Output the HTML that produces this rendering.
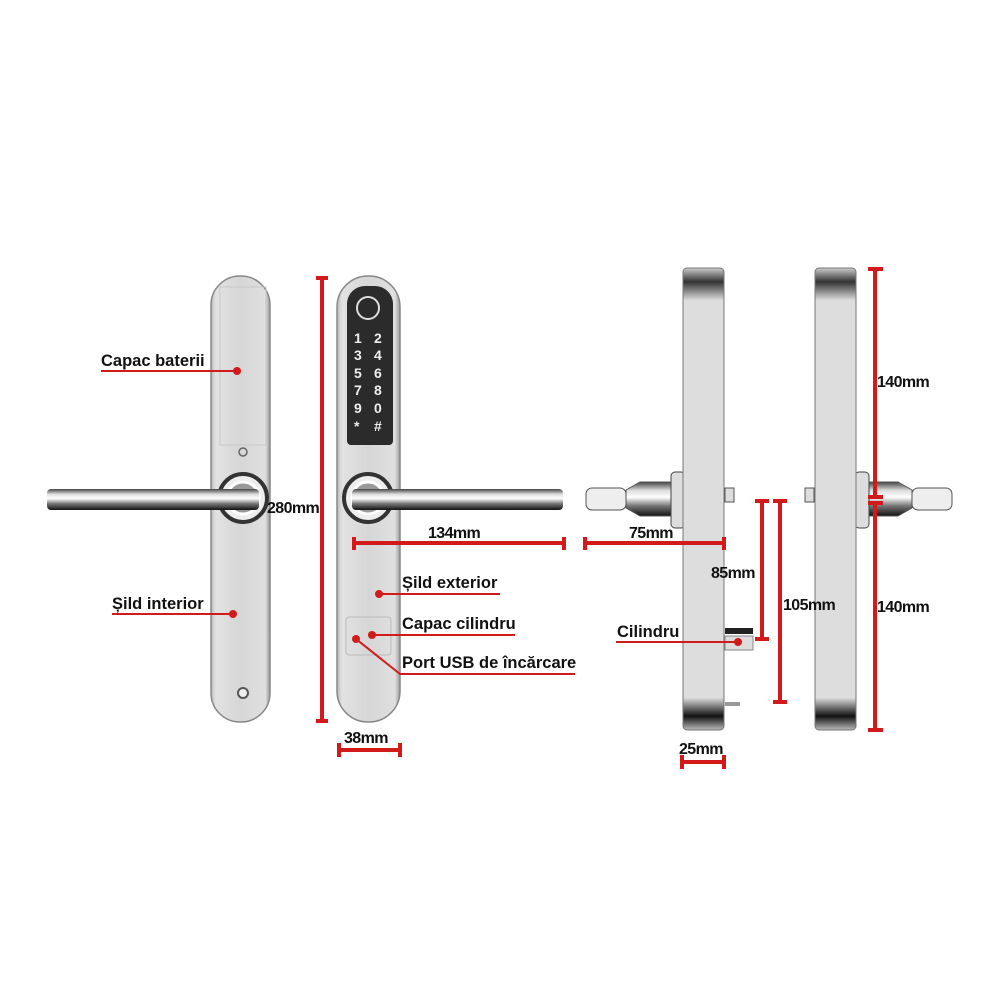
<!DOCTYPE html>
<html><head><meta charset="utf-8"><style>
html,body{margin:0;padding:0;background:#fff;width:1000px;height:1000px;overflow:hidden}
text{font-family:"Liberation Sans",sans-serif;font-weight:bold;fill:#111}
.k{fill:#eee;font-weight:bold;font-size:14px}
</style></head><body>
<svg width="1000" height="1000" viewBox="0 0 1000 1000" xmlns="http://www.w3.org/2000/svg">
<defs>
<linearGradient id="plate" x1="0" x2="1" y1="0" y2="0">
<stop offset="0" stop-color="#bbb"/><stop offset="0.08" stop-color="#e2e2e2"/><stop offset="0.5" stop-color="#d6d6d6"/><stop offset="0.92" stop-color="#e0e0e0"/><stop offset="1" stop-color="#999"/></linearGradient>
<linearGradient id="bar" x1="0" x2="0" y1="0" y2="1">
<stop offset="0" stop-color="#444"/><stop offset="0.25" stop-color="#ddd"/><stop offset="0.45" stop-color="#fff"/><stop offset="0.7" stop-color="#777"/><stop offset="1" stop-color="#111"/></linearGradient>
<linearGradient id="side" x1="0" x2="0" y1="0" y2="1">
<stop offset="0" stop-color="#ccc"/><stop offset="0.03" stop-color="#333"/><stop offset="0.07" stop-color="#ddd"/><stop offset="0.93" stop-color="#ddd"/><stop offset="0.97" stop-color="#111"/><stop offset="1" stop-color="#bbb"/></linearGradient>
</defs>
<!-- interior plate -->
<rect x="211" y="276" width="59" height="446" rx="29" fill="url(#plate)" stroke="#888" stroke-width="1.5"/>
<rect x="220" y="287" width="46" height="158" fill="none" stroke="#c8c8c8"/>
<circle cx="243" cy="452" r="4" fill="none" stroke="#666" stroke-width="1.5"/>
<circle cx="243" cy="693" r="5" fill="#eee" stroke="#555" stroke-width="2"/>
<circle cx="243" cy="498" r="24" fill="#eee" stroke="#333" stroke-width="4"/>
<circle cx="243" cy="498" r="16" fill="#999" stroke="#fff" stroke-width="3"/>
<rect x="47" y="489" width="212" height="21" rx="4" fill="url(#bar)"/>
<!-- exterior plate -->
<rect x="337" y="276" width="63" height="446" rx="31" fill="url(#plate)" stroke="#888" stroke-width="1.5"/>
<rect x="347" y="286" width="46" height="159" rx="18" fill="#2b2b2b"/>
<rect x="347" y="300" width="46" height="145" rx="4" fill="#2b2b2b"/>
<circle cx="368" cy="308" r="11" fill="none" stroke="#ddd" stroke-width="2"/>
<text class="k" x="354" y="343">1</text><text class="k" x="374" y="343">2</text>
<text class="k" x="354" y="360">3</text><text class="k" x="374" y="360">4</text>
<text class="k" x="354" y="378">5</text><text class="k" x="374" y="378">6</text>
<text class="k" x="354" y="395">7</text><text class="k" x="374" y="395">8</text>
<text class="k" x="354" y="413">9</text><text class="k" x="374" y="413">0</text>
<text class="k" x="354" y="431">*</text><text class="k" x="374" y="431">#</text>
<rect x="346" y="617" width="45" height="38" rx="3" fill="none" stroke="#bbb"/>
<circle cx="368" cy="498" r="24" fill="#eee" stroke="#333" stroke-width="4"/>
<circle cx="368" cy="498" r="16" fill="#999" stroke="#fff" stroke-width="3"/>
<rect x="352" y="489" width="211" height="21" rx="4" fill="url(#bar)"/>
<!-- side view 1 -->
<rect x="586" y="488" width="40" height="22" rx="6" fill="#eee" stroke="#555"/>
<polygon points="626,490 640,482 672,482 672,516 640,516 626,508" fill="url(#bar)" stroke="#555"/>
<rect x="671" y="472" width="14" height="56" rx="4" fill="#ddd" stroke="#444"/>
<rect x="683" y="268" width="41" height="462" rx="4" fill="url(#side)" stroke="#777"/>
<rect x="725" y="488" width="9" height="14" fill="#ddd" stroke="#555"/>
<rect x="725" y="628" width="28" height="6" fill="#222"/>
<rect x="725" y="636" width="28" height="14" fill="#ddd" stroke="#888"/>
<rect x="725" y="702" width="15" height="4" fill="#999"/>
<!-- side view 2 -->
<rect x="912" y="488" width="40" height="22" rx="6" fill="#eee" stroke="#555"/>
<polygon points="912,490 898,482 866,482 866,516 898,516 912,508" fill="url(#bar)" stroke="#555"/>
<rect x="855" y="472" width="14" height="56" rx="4" fill="#ddd" stroke="#444"/>
<rect x="815" y="268" width="41" height="462" rx="4" fill="url(#side)" stroke="#777"/>
<rect x="805" y="488" width="9" height="14" fill="#ddd" stroke="#555"/>
<!-- red dimension lines -->
<g stroke="#d21a1a" stroke-width="4" fill="none">
<path d="M322 278V721M316 278H328M316 721H328"/>
<path d="M354 543H564M354 537V550M564 537V550"/>
<path d="M339 750H400M339 743V757M400 743V757"/>
<path d="M585 543H724M585 537V550M724 537V550"/>
<path d="M762 501V639M755 501H769M755 639H769"/>
<path d="M780 501V702M773 501H787M773 702H787"/>
<path d="M875 269V497M868 269H883M868 497H883"/>
<path d="M875 503V730M868 503H883M868 730H883"/>
<path d="M682 762H724M682 755V769M724 755V769"/>
</g>
<g stroke="#d21a1a" stroke-width="2" fill="none">
<path d="M101 371H237"/><path d="M112 614H233"/>
<path d="M379 594H500"/><path d="M372 635H515"/>
<path d="M356 639L400 674H575"/><path d="M616 642H738"/>
</g>
<g fill="#d21a1a">
<circle cx="237" cy="371" r="4"/><circle cx="233" cy="614" r="4"/>
<circle cx="379" cy="594" r="4"/><circle cx="372" cy="635" r="4"/>
<circle cx="356" cy="639" r="4"/><circle cx="738" cy="642" r="4"/>
</g>
<g font-size="16.5">
<text x="101" y="366">Capac baterii</text>
<text x="112" y="609">Șild interior</text>
<text x="402" y="588">Șild exterior</text>
<text x="402" y="629">Capac cilindru</text>
<text x="402" y="668">Port USB de încărcare</text>
<text x="617" y="637">Cilindru</text>
</g>
<g font-size="16" letter-spacing="-0.6">
<text x="267" y="513">280mm</text>
<text x="428" y="538">134mm</text>
<text x="344" y="743">38mm</text>
<text x="629" y="538">75mm</text>
<text x="711" y="578">85mm</text>
<text x="783" y="610">105mm</text>
<text x="877" y="387">140mm</text>
<text x="877" y="612">140mm</text>
<text x="679" y="754">25mm</text>
</g>
</svg>
</body></html>
